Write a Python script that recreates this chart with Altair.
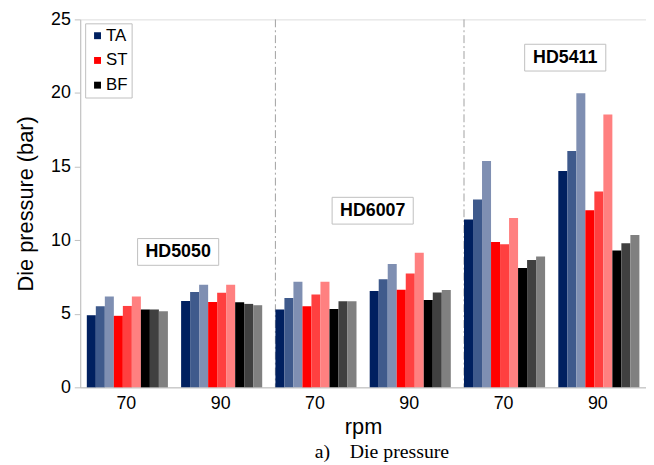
import altair as alt
import pandas as pd

categories = ["HD5050 70", "HD5050 90", "HD6007 70", "HD6007 90", "HD5411 70", "HD5411 90"]
series = ["TA 1", "TA 2", "TA 3", "ST 1", "ST 2", "ST 3", "BF 1", "BF 2", "BF 3"]
series_group = ["TA", "TA", "TA", "ST", "ST", "ST", "BF", "BF", "BF"]
groups = ["TA", "ST", "BF"]

ta_1 = [4.90, 5.87, 5.29, 6.54, 11.40, 14.70]
ta_2 = [5.51, 6.47, 6.07, 7.35, 12.77, 16.06]
ta_3 = [6.18, 6.97, 7.17, 8.38, 15.37, 19.98]
st_1 = [4.86, 5.80, 5.51, 6.63, 9.88, 12.03]
st_2 = [5.53, 6.43, 6.30, 7.73, 9.72, 13.30]
st_3 = [6.18, 6.97, 7.17, 9.14, 11.51, 18.53]
bf_1 = [5.29, 5.78, 5.33, 5.94, 8.11, 9.29]
bf_2 = [5.29, 5.67, 5.85, 6.45, 8.65, 9.79]
bf_3 = [5.17, 5.58, 5.85, 6.61, 8.89, 10.35]
series_values = [ta_1, ta_2, ta_3, st_1, st_2, st_3, bf_1, bf_2, bf_3]

series_colors = ["#002060", "#3f5a8c", "#7f8fb2", "#ff0000", "#ff4040", "#ff8080",
                 "#000000", "#404040", "#808080"]
group_colors = ["#002060", "#ff0000", "#000000"]

annotation_labels = ["HD5050", "HD6007", "HD5411"]
annotation_cats = ["HD5050 90", "HD6007 90", "HD5411 90"]
annotation_y = [9.2, 12.0, 22.4]
annotation_dx = [-3, 3, 7]

separator_cats = ["HD6007 70", "HD5411 70"]

rows = []
for s, g, vals in zip(series, series_group, series_values):
    for c, v in zip(categories, vals):
        rows.append({"cat": c, "series": s, "group": g, "value": v})
df = pd.DataFrame(rows)

FONT = "Liberation Sans"
GREY = "#bfbfbf"

x_scale = alt.Scale(domain=categories, paddingInner=0.14, paddingOuter=0.07)
x_axis = alt.Axis(title="rpm", labelExpr="split(datum.label, ' ')[1]", labelAngle=0,
                  labelOffset=9, ticks=False, labelPadding=16, labelFontSize=18,
                  titleFontSize=22, titlePadding=5, titleFontWeight="normal",
                  domainColor=GREY, labelColor="black", titleColor="black",
                  labelFont=FONT, titleFont=FONT, grid=False)
y_scale = alt.Scale(domain=[0, 25])
y_axis = alt.Axis(title="Die pressure (bar)", values=[0, 5, 10, 15, 20, 25], grid=False,
                  tickSize=6, tickColor=GREY, domainColor=GREY, labelFontSize=18,
                  titleFontSize=22, titleFontWeight="normal", labelPadding=4,
                  titlePadding=13, labelColor="black", titleColor="black",
                  labelFont=FONT, titleFont=FONT)

bars = alt.Chart(df).mark_bar().encode(
    x=alt.X("cat:N", sort=categories, scale=x_scale, axis=x_axis),
    xOffset=alt.XOffset("series:N", sort=series,
                        scale=alt.Scale(domain=series, paddingInner=0, paddingOuter=0)),
    y=alt.Y("value:Q", scale=y_scale, axis=y_axis),
    color=alt.Color("series:N", scale=alt.Scale(domain=series, range=series_colors), legend=None),
)

legend_layer = alt.Chart(df).mark_square(opacity=0).encode(
    x=alt.X("cat:N", sort=categories, scale=x_scale),
    y=alt.Y("value:Q", scale=y_scale),
    color=alt.Color("group:N", scale=alt.Scale(domain=groups, range=group_colors),
                    legend=alt.Legend(title=None, orient="none", legendX=5, legendY=4,
                                      symbolType="square", symbolSize=49, symbolOpacity=1,
                                      symbolStrokeWidth=0, labelFontSize=17, labelFont=FONT,
                                      labelColor="black", rowPadding=7, padding=4,
                                      strokeColor=GREY, fillColor="white", labelOffset=0)),
)

sep_df = pd.DataFrame({"cat": separator_cats})
separators = alt.Chart(sep_df).mark_rule(color="#a0a0a0", strokeWidth=1,
                                         strokeDash=[8, 3, 2, 3]).encode(
    x=alt.X("cat:N", sort=categories, scale=x_scale, bandPosition=0)
)

box_shape = "M-1,-0.33L1,-0.33L1,0.33L-1,0.33Z"
ann_layers = []
for lab, c, yv, dx in zip(annotation_labels, annotation_cats, annotation_y, annotation_dx):
    adf = pd.DataFrame({"cat": [c], "y": [yv], "label": [lab]})
    base = alt.Chart(adf).encode(
        x=alt.X("cat:N", sort=categories, scale=x_scale, bandPosition=0),
        y=alt.Y("y:Q", scale=y_scale),
    )
    box = base.mark_point(shape=box_shape, size=82 * 82, filled=False, fill="white",
                          stroke=GREY, strokeWidth=1, opacity=1, fillOpacity=1, xOffset=dx)
    txt = base.mark_text(font=FONT, fontSize=18, fontWeight="bold", color="black",
                         align="center", baseline="middle", xOffset=dx).encode(text="label:N")
    ann_layers += [box, txt]

chart = alt.layer(legend_layer, separators, bars, *ann_layers).resolve_scale(
    color="independent"
).properties(
    width=572,
    height=372,
    autosize=alt.AutoSizeParams(type="none"),
    padding={"left": 73, "top": 9, "right": 0, "bottom": 76},
    title=alt.TitleParams("a)\u00a0\u00a0\u00a0\u00a0Die pressure", orient="bottom",
                          font="Liberation Serif", fontSize=20, fontWeight="normal",
                          dx=19, offset=4, anchor="middle", color="black"),
).configure_view(stroke=GREY).configure(background="white")

chart.save("out.html", embed_options={"renderer": "svg", "actions": False})
